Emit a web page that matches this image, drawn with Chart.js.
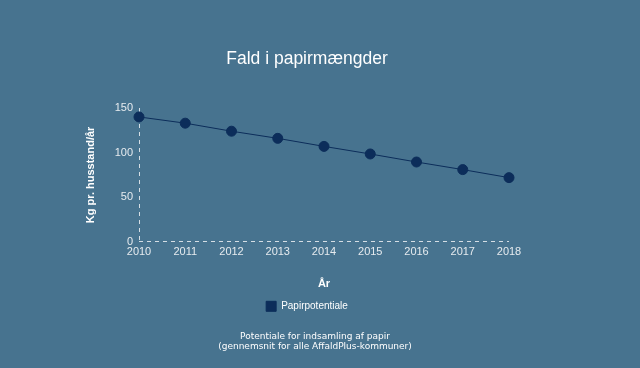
<!DOCTYPE html>
<html>
<head>
<meta charset="utf-8">
<style>
  html, body { margin: 0; padding: 0; background: #47738f; }
  #wrap { width: 640px; height: 368px; }
</style>
<script src="https://cdn.jsdelivr.net/npm/chart.js@4/dist/chart.umd.min.js"></script>
</head>
<body>
<div id="wrap"><canvas id="c" width="640" height="368"></canvas></div>
<script>
const years = ['2010','2011','2012','2013','2014','2015','2016','2017','2018'];
const papirpotentiale = [140, 133, 124, 116, 107, 98.5, 89.5, 81, 72];
const yTicks = [0, 50, 100, 150];

const navy = '#0c2d5a';
const tickColor = '#e6ebef';
const dashColor = '#d5dee5';

const shiftSubtitle = {
  id: 'shiftSubtitle',
  afterLayout(chart) {
    chart.boxes.forEach(b => {
      if (b.options && Array.isArray(b.options.text)) { b.left += 8; b.right += 8; }
    });
  }
};

new Chart(document.getElementById('c'), {
  type: 'line',
  data: {
    labels: years,
    datasets: [{
      label: 'Papirpotentiale',
      data: papirpotentiale,
      borderColor: navy,
      backgroundColor: navy,
      borderWidth: 1,
      pointRadius: 5,
      pointHoverRadius: 5,
      pointBackgroundColor: navy,
      pointBorderColor: navy,
      tension: 0,
      fill: false
    }]
  },
  plugins: [shiftSubtitle],
  options: {
    responsive: false,
    animation: false,
    layout: { padding: { left: 0, right: 26, top: 0, bottom: 0 } },
    plugins: {
      title: {
        display: true,
        text: 'Fald i papirmængder',
        color: '#ffffff',
        font: { family: 'Liberation Sans', size: 17.5, weight: 'normal' },
        padding: { top: 49, bottom: 38 }
      },
      subtitle: {
        display: true,
        position: 'bottom',
        text: ['Potentiale for indsamling af papir', '(gennemsnit for alle AffaldPlus-kommuner)'],
        color: '#ffffff',
        font: { family: 'DejaVu Sans', size: 9, lineHeight: 1.15 },
        padding: { top: 10, bottom: 16 }
      },
      legend: {
        display: true,
        position: 'bottom',
        labels: {
          color: '#ffffff',
          boxWidth: 10,
          boxHeight: 10,
          font: { family: 'Liberation Sans', size: 10 },
          padding: 10
        }
      },
      tooltip: { enabled: false }
    },
    scales: {
      x: {
        offset: false,
        grid: {
          display: true, drawTicks: false, lineWidth: 1,
          color: (ctx) => (ctx.index === 0 ? dashColor : 'rgba(0,0,0,0)')
        },
        border: { display: false, dash: [4, 4] },
        ticks: { color: tickColor, font: { family: 'Liberation Sans', size: 11 }, padding: 3, maxRotation: 0 },
        title: {
          display: true, text: 'År', color: '#ffffff',
          font: { family: 'Liberation Sans', size: 11, weight: 'bold' },
          padding: { top: 16, bottom: 1 }
        },
        afterFit: (s) => { s.paddingRight = 131; }
      },
      y: {
        min: 0, max: 150,
        afterBuildTicks: (s) => { s.ticks = yTicks.map(v => ({ value: v })); },
        grid: {
          display: true, drawTicks: false, lineWidth: 1,
          color: (ctx) => (ctx.tick && ctx.tick.value === 0 ? dashColor : 'rgba(0,0,0,0)')
        },
        border: { display: false, dash: [4, 4] },
        ticks: { color: tickColor, font: { family: 'Liberation Sans', size: 11 }, padding: 6 },
        title: {
          display: true, text: 'Kg pr. husstand/år', color: '#ffffff',
          font: { family: 'Liberation Sans', size: 11, weight: 'bold' },
          padding: { top: 84, bottom: 0 }
        },
        afterFit: (s) => { s.width = 139; }
      }
    }
  }
});
</script>
</body>
</html>
